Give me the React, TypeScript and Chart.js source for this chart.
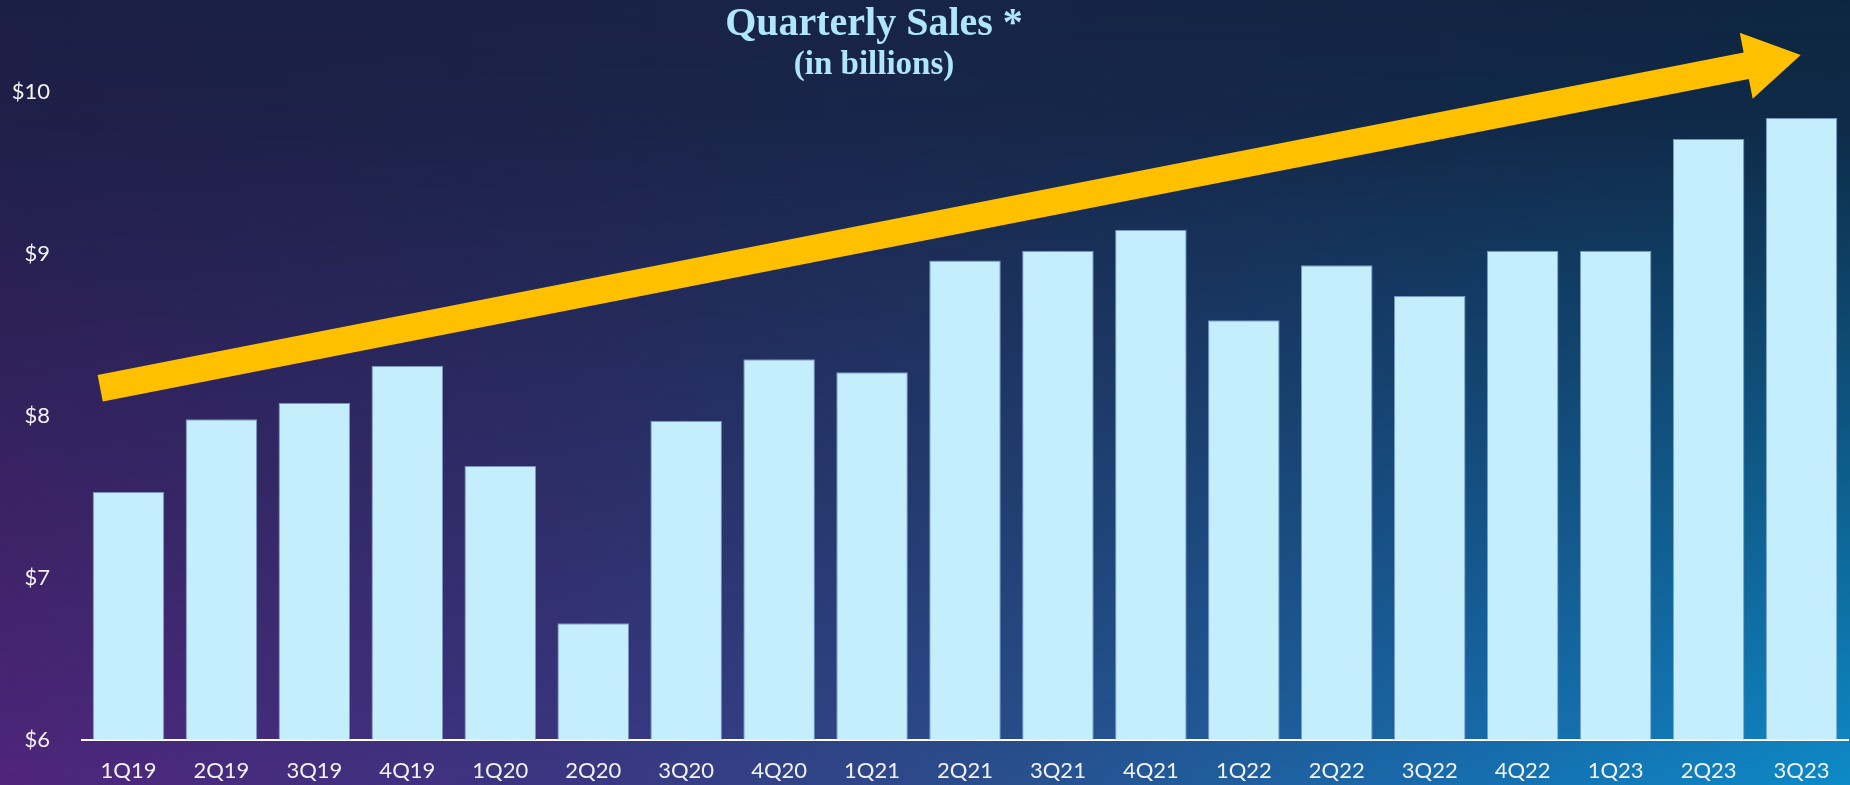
import React, { useEffect, useRef } from "react";
import { Chart, registerables } from "chart.js";

Chart.register(...registerables);

const quarters = [
  "1Q19", "2Q19", "3Q19", "4Q19",
  "1Q20", "2Q20", "3Q20", "4Q20",
  "1Q21", "2Q21", "3Q21", "4Q21",
  "1Q22", "2Q22", "3Q22", "4Q22",
  "1Q23", "2Q23", "3Q23",
];
const salesBillions = [
  7.53, 7.98, 8.08, 8.31,
  7.69, 6.72, 7.97, 8.35,
  8.27, 8.96, 9.02, 9.15,
  8.59, 8.93, 8.74, 9.02,
  9.02, 9.71, 9.84,
];
const yTicks = [6, 7, 8, 9, 10];
const titleText = "Quarterly Sales *";
const subtitleText = "(in billions)";

const W = 1850;
const H = 785;

const backgroundPlugin = {
  id: "bgGradient",
  beforeDraw(chart: any) {
    const ctx = chart.ctx;
    const w = chart.width;
    const h = chart.height;
    ctx.save();
    const gb = ctx.createLinearGradient(0, 0, w, 0);
    gb.addColorStop(0, "#50257b");
    gb.addColorStop(0.3, "#3c3682");
    gb.addColorStop(0.55, "#29508f");
    gb.addColorStop(0.8, "#176fb0");
    gb.addColorStop(1, "#0e8bc8");
    ctx.fillStyle = gb;
    ctx.fillRect(0, 0, w, h);
    const off = document.createElement("canvas");
    off.width = w;
    off.height = h;
    const o = off.getContext("2d") as CanvasRenderingContext2D;
    const gt = o.createLinearGradient(0, 0, w, 0);
    gt.addColorStop(0, "#1c1f45");
    gt.addColorStop(0.5, "#172446");
    gt.addColorStop(1, "#0e2540");
    o.fillStyle = gt;
    o.fillRect(0, 0, w, h);
    o.globalCompositeOperation = "destination-in";
    const gv = o.createLinearGradient(0, 0, 0, h);
    gv.addColorStop(0, "rgba(0,0,0,1)");
    gv.addColorStop(0.15, "rgba(0,0,0,0.95)");
    gv.addColorStop(1, "rgba(0,0,0,0)");
    o.fillStyle = gv;
    o.fillRect(0, 0, w, h);
    ctx.drawImage(off, 0, 0);
    ctx.restore();
  },
};

const overlayPlugin = {
  id: "overlay",
  afterDraw(chart: any) {
    const ctx = chart.ctx;
    ctx.save();
    // Trend arrow
    const tail = { x: 100.2, y: 388.3 };
    const tip = { x: 1800.7, y: 55 };
    const dx = tip.x - tail.x;
    const dy = tip.y - tail.y;
    const len = Math.hypot(dx, dy);
    const ux = dx / len;
    const uy = dy / len;
    const px = -uy;
    const py = ux;
    const shaftHalf = 13.5;
    const headHalf = 33.6;
    const headLen = 55.5;
    const bx = tip.x - ux * headLen;
    const by = tip.y - uy * headLen;
    ctx.beginPath();
    ctx.moveTo(tail.x + px * shaftHalf, tail.y + py * shaftHalf);
    ctx.lineTo(bx + px * shaftHalf, by + py * shaftHalf);
    ctx.lineTo(bx + px * headHalf, by + py * headHalf);
    ctx.lineTo(tip.x, tip.y);
    ctx.lineTo(bx - px * headHalf, by - py * headHalf);
    ctx.lineTo(bx - px * shaftHalf, by - py * shaftHalf);
    ctx.lineTo(tail.x - px * shaftHalf, tail.y - py * shaftHalf);
    ctx.closePath();
    ctx.fillStyle = "#ffc000";
    ctx.fill();

    // Title
    ctx.fillStyle = "#b0e6fc";
    ctx.textAlign = "center";
    ctx.textBaseline = "alphabetic";
    ctx.font = "bold 40px 'Liberation Serif', serif";
    ctx.fillText(titleText, 874, 35);
    ctx.font = "bold 33px 'Liberation Serif', serif";
    ctx.fillText(subtitleText, 874, 74);
    ctx.restore();
  },
};

export default function App() {
  const ref = useRef<HTMLCanvasElement | null>(null);
  useEffect(() => {
    document.body.style.margin = "0";
    const canvas = ref.current;
    if (!canvas) return;
    const chart = new Chart(canvas, {
      type: "bar",
      data: {
        labels: quarters,
        datasets: [
          {
            label: "Quarterly Sales",
            data: salesBillions,
            backgroundColor: "#c5eefd",
            borderColor: "rgba(130,160,205,0.9)",
            borderWidth: 1,
            categoryPercentage: 1,
            barPercentage: 0.77,
          },
        ],
      },
      options: {
        responsive: false,
        animation: false,
        devicePixelRatio: 1,
        layout: { padding: { left: 12, right: 2, top: 92, bottom: 0 } },
        plugins: {
          legend: { display: false },
          tooltip: { enabled: false },
          title: { display: false },
        },
        scales: {
          x: {
            grid: { display: false, drawTicks: false },
            border: { display: true, color: "#ffffff", width: 2 },
            ticks: {
              color: "#f2f2f2",
              font: { family: "Lato", size: 22 },
              padding: 18,
              maxRotation: 0,
            },
            afterFit: (axis: any) => {
              axis.height = 44;
            },
          },
          y: {
            min: 6,
            max: 10,
            afterBuildTicks: (axis: any) => {
              axis.ticks = yTicks.map((v) => ({ value: v }));
            },
            grid: { display: false, drawTicks: false },
            border: { display: false },
            ticks: {
              color: "#f2f2f2",
              font: { family: "Lato", size: 22 },
              padding: 32,
              callback: (v: any) => "$" + v,
            },
            afterFit: (axis: any) => {
              axis.width = 70;
            },
          },
        },
      },
      plugins: [backgroundPlugin, overlayPlugin],
    });
    return () => chart.destroy();
  }, []);
  return (
    <div style={{ width: W, height: H }}>
      <canvas ref={ref} width={W} height={H} style={{ display: "block" }} />
    </div>
  );
}
